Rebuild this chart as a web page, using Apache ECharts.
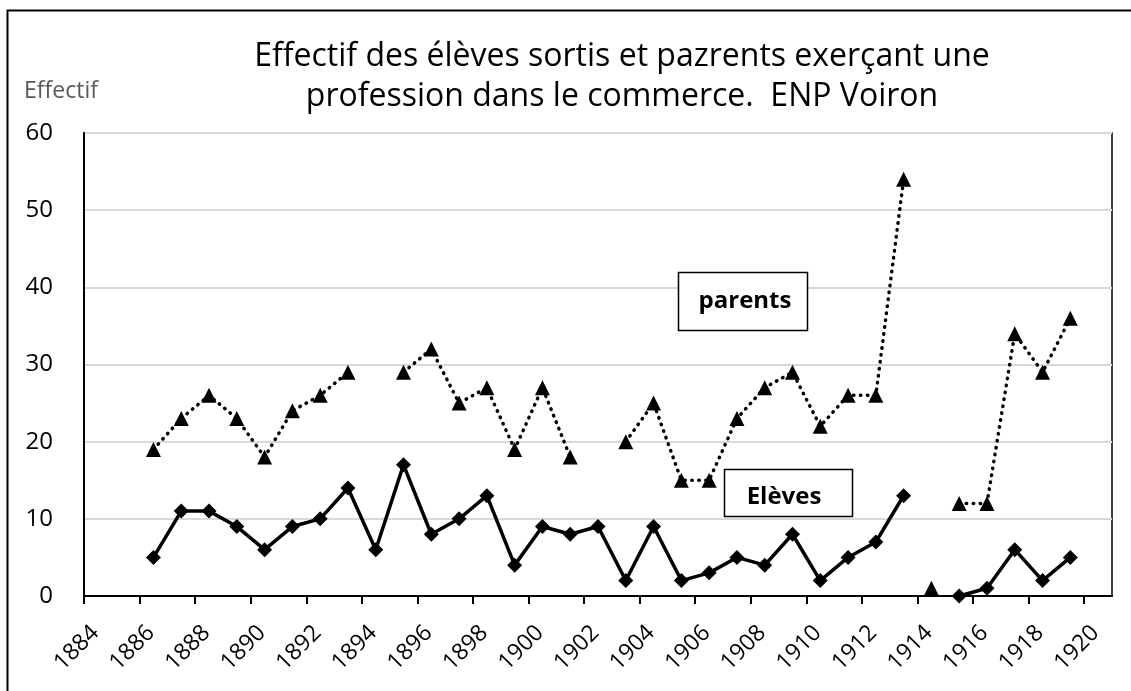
<!DOCTYPE html>
<html>
<head>
<meta charset="utf-8">
<script src="https://cdn.jsdelivr.net/npm/echarts@6/dist/echarts.min.js"></script>
<style>
  html, body { margin: 0; padding: 0; background: #ffffff; }
  #chart { width: 1131px; height: 691px; }
</style>
</head>
<body>
<div id="chart"></div>
<script>
// Positions on the time axis: each school year sits midway between two years
const schoolYears = [
  1886.5, 1887.5, 1888.5, 1889.5, 1890.5, 1891.5, 1892.5, 1893.5, 1894.5, 1895.5,
  1896.5, 1897.5, 1898.5, 1899.5, 1900.5, 1901.5, 1902.5, 1903.5, 1904.5, 1905.5,
  1906.5, 1907.5, 1908.5, 1909.5, 1910.5, 1911.5, 1912.5, 1913.5, 1914.5, 1915.5,
  1916.5, 1917.5, 1918.5, 1919.5
];
// Pupils leaving for a job in commerce
const eleves = [
  5, 11, 11, 9, 6, 9, 10, 14, 6, 17,
  8, 10, 13, 4, 9, 8, 9, 2, 9, 2,
  3, 5, 4, 8, 2, 5, 7, 13, null, 0,
  1, 6, 2, 5
];
// Parents working in commerce
const parents = [
  19, 23, 26, 23, 18, 24, 26, 29, null, 29,
  32, 25, 27, 19, 27, 18, null, 20, 25, 15,
  15, 23, 27, 29, 22, 26, 26, 54, null, 12,
  12, 34, 29, 36
];
// A lone parents value recorded for 1914
const parentsIsolated = [[1914.5, 1]];
const xTickLabels = [1884, 1886, 1888, 1890, 1892, 1894, 1896, 1898, 1900, 1902,
  1904, 1906, 1908, 1910, 1912, 1914, 1916, 1918, 1920];
const yTicks = [0, 10, 20, 30, 40, 50, 60];

const FONT = '"Open Sans", sans-serif';

const chart = echarts.init(document.getElementById('chart'), null, { renderer: 'canvas' });

const pair = (vals) => schoolYears.map((x, i) => [x, vals[i]]);

chart.setOption({
  animation: false,
  backgroundColor: '#ffffff',
  grid: {
    left: 84, right: 19, top: 133, bottom: 95,
    show: true, borderColor: '#000000', borderWidth: 1.5
  },
  xAxis: {
    type: 'value',
    min: 1884, max: 1921, interval: 2,
    axisLine: { show: true, lineStyle: { color: '#000000', width: 2 } },
    axisTick: { show: true, length: 8, lineStyle: { color: '#000000', width: 2 }, customValues: xTickLabels },
    axisLabel: {
      rotate: 45, margin: 22, color: '#000000', fontSize: 23, fontFamily: FONT,
      verticalAlign: 'top', lineHeight: 32,
      customValues: xTickLabels, formatter: (v) => String(v)
    },
    splitLine: { show: false }
  },
  yAxis: {
    type: 'value',
    min: yTicks[0], max: yTicks[yTicks.length - 1], interval: 10,
    axisLine: { show: true, lineStyle: { color: '#000000', width: 2 } },
    axisTick: { show: false },
    axisLabel: { margin: 31, color: '#000000', fontSize: 24, fontFamily: FONT },
    splitLine: { show: true, lineStyle: { color: '#d9d9d9', width: 2 } }
  },
  series: [
    {
      name: 'parents',
      type: 'line',
      data: pair(parents),
      connectNulls: false,
      symbol: 'triangle', symbolSize: 15,
      itemStyle: { color: '#000000' },
      lineStyle: { color: '#000000', width: 3.5, type: [0.5, 6.5], cap: 'round' },
      z: 3
    },
    {
      name: 'parents',
      type: 'scatter',
      data: parentsIsolated,
      symbol: 'triangle', symbolSize: 15,
      itemStyle: { color: '#000000', opacity: 1 },
      z: 3
    },
    {
      name: 'Elèves',
      type: 'line',
      data: pair(eleves),
      connectNulls: false,
      symbol: 'diamond', symbolSize: 15,
      itemStyle: { color: '#000000' },
      lineStyle: { color: '#000000', width: 3.5 },
      z: 4
    }
  ],
  graphic: [
    {
      type: 'rect', silent: true,
      shape: { x: 7.5, y: 10.5, width: 1140, height: 700 },
      style: { fill: 'none', stroke: '#000000', lineWidth: 2 }
    },
    {
      type: 'text', x: 622, y: 57,
      style: {
        text: 'Effectif des élèves sortis et pazrents exerçant une',
        font: '32px ' + FONT, fill: '#000000', align: 'center', verticalAlign: 'middle'
      }
    },
    {
      type: 'text', x: 622, y: 97,
      style: {
        text: 'profession dans le commerce.  ENP Voiron',
        font: '32px ' + FONT, fill: '#000000', align: 'center', verticalAlign: 'middle'
      }
    },
    {
      type: 'text', x: 24, y: 91,
      style: {
        text: 'Effectif', font: '23px ' + FONT, fill: '#595959',
        align: 'left', verticalAlign: 'middle'
      }
    },
    {
      type: 'rect', silent: true,
      shape: { x: 678.5, y: 272.5, width: 129, height: 58 },
      style: { fill: '#ffffff', stroke: '#000000', lineWidth: 1.5 },
      z: 10
    },
    {
      type: 'text', x: 745, y: 301, z: 11,
      style: {
        text: 'parents', font: 'bold 24px ' + FONT, fill: '#000000',
        align: 'center', verticalAlign: 'middle'
      }
    },
    {
      type: 'rect', silent: true,
      shape: { x: 724.5, y: 469.5, width: 128, height: 47 },
      style: { fill: '#ffffff', stroke: '#000000', lineWidth: 1.5 },
      z: 10
    },
    {
      type: 'text', x: 784, y: 497, z: 11,
      style: {
        text: 'Elèves', font: 'bold 24px ' + FONT, fill: '#000000',
        align: 'center', verticalAlign: 'middle'
      }
    }
  ]
});
</script>
</body>
</html>
